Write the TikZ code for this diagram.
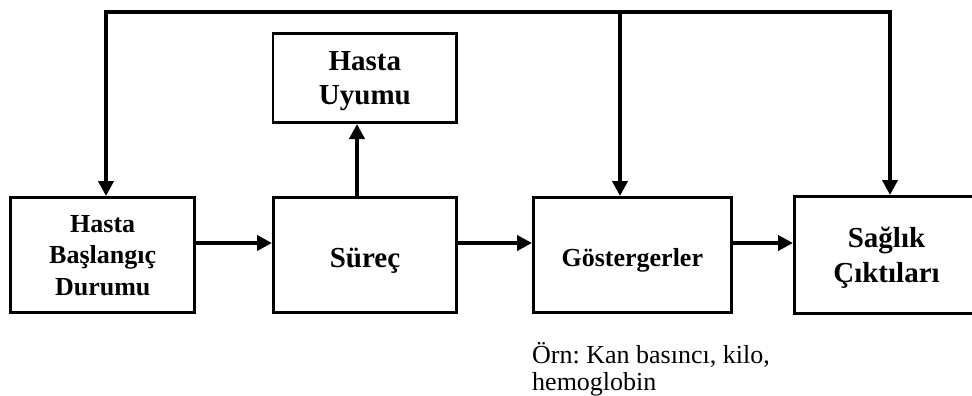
\documentclass[tikz,border=0pt]{standalone}
\usepackage{fontspec}
\setmainfont{Liberation Serif}
\usetikzlibrary{arrows.meta}
\frenchspacing

\begin{document}
\begin{tikzpicture}[x=1pt,y=-1pt,
  box/.style={draw, line width=2.6pt, align=center, inner sep=0pt, text depth=0pt},
  smalltxt/.style={font=\fontsize{26}{31.5}\selectfont\bfseries},
  bigtxt/.style={font=\fontsize{29}{34.5}\selectfont\bfseries},
  tip/.tip={Triangle[length=15pt,width=15pt]},
  flow/.style={line width=4pt, line join=miter, -tip}]
\useasboundingbox (0,0) rectangle (972,396);

% main boxes
\node[box, smalltxt, minimum width=184pt, minimum height=115.4pt] (b1) at (102.7,255)
  {Hasta\\Başlangıç\\Durumu};
\node[box, bigtxt, text height=24pt, minimum width=183.4pt, minimum height=115.4pt] (b2) at (365,255)
  {Süreç};
\node[box, smalltxt, text height=22pt, minimum width=198pt, minimum height=115.4pt] (b3) at (632.3,255)
  {Göstergerler};
\node[box, bigtxt, minimum width=184.4pt, minimum height=117.4pt] (b4) at (886.5,255)
  {Sağlık\\Çıktıları};
\node[box, bigtxt, minimum width=183.7pt, minimum height=89.4pt] (up) at (364.9,78)
  {Hasta\\Uyumu};

% note under the indicators box
\node[anchor=base west, align=left, inner sep=0pt,
      font=\fontsize{26}{27}\selectfont] (note) at (532,390)
  {Örn: Kan basıncı, kilo,\\hemoglobin};

% feedback bus along the top
\coordinate (c1) at (106,12);
\coordinate (c3) at (620,12);
\coordinate (c4) at (890,12);

% forward flow
\draw[flow] (b1.east |- 0,243) -- (b2.west |- 0,243);
\draw[flow] (b2.east |- 0,243) -- (b3.west |- 0,243);
\draw[flow] (b3.east |- 0,243) -- (b4.west |- 0,243);
\draw[flow] (b2.north -| 357,0) -- (up.south -| 357,0);

% feedback arrows
\draw[line width=4pt, line join=miter, tip-tip]
  (b1.north -| c1) -- (c1) -- (c4) -- (b4.north -| c4);
\draw[flow] (c3) -- (b3.north -| c3);
\end{tikzpicture}
\end{document}
